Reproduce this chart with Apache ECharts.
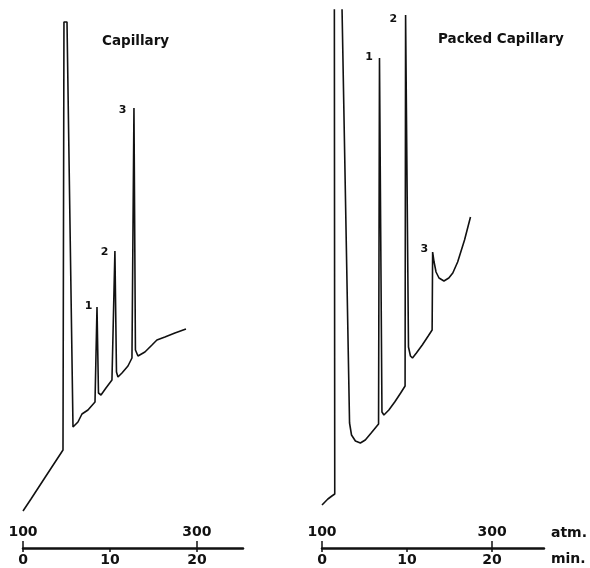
<!DOCTYPE html>
<html>
<head>
<meta charset="utf-8">
<title>Capillary vs Packed Capillary</title>
<script src="https://cdn.jsdelivr.net/npm/echarts@6/dist/echarts.min.js"></script>
<style>
  html, body { margin: 0; padding: 0; background: #fff; }
  #chart { width: 590px; height: 568px; }
</style>
</head>
<body>
<div id="chart"></div>
<script>
// time in min, detector signal in arbitrary units
const timeCap = [0, 0.92, 2.53, 4.6, 4.71, 5.06, 5.75, 5.98, 6.32, 6.78, 7.47, 8.28, 8.39, 8.51, 8.68, 8.97,
  9.54, 10.23, 10.4, 10.57, 10.75, 10.92, 11.38, 12.07, 12.53, 12.64, 12.76, 12.93, 13.22, 14.02, 14.83,
  15.4, 16.32, 17.47, 18.74];
const signalCap = [7.4, 9.8, 14.1, 19.6, 105.2, 105.2, 24.2, 24.0, 25.2, 26.8, 27.6, 29.2, 29.6, 48.2, 31, 30.6,
  32, 33.6, 34, 59.4, 35.2, 34.2, 35, 36.4, 38, 38.4, 88, 39.6, 38.4, 39.2, 40.6,
  41.6, 42.2, 43, 43.8];

const timePacked = [0, 0.69, 1.16, 1.5, 1.45, 2.28, 3.24, 3.47, 3.93, 4.51, 5.09, 5.78, 6.36, 6.65, 6.76, 7.05,
  7.28, 7.86, 8.55, 9.25, 9.77, 9.83, 10.17, 10.4, 10.64, 11.1, 11.79, 12.49, 12.95, 13.01, 13.18, 13.41,
  13.76, 14.34, 14.91, 15.38, 15.95, 16.76, 17.46];
const signalPacked = [8.6, 9.8, 10.4, 10.8, 115, 115, 25, 22.6, 21.4, 21, 21.6, 23, 24.2, 24.8, 98, 27.2,
  26.6, 27.6, 29.2, 31, 32.4, 106.6, 40.2, 38.4, 38, 39, 40.6, 42.4, 43.6, 59.2, 57.2, 55.2,
  54, 53.4, 54, 55, 57.2, 61.6, 66.2];

// peak numbers and the index of each peak top in the arrays above
const peakNames = ['1', '2', '3'];
const peakIdxCap = [13, 19, 26];
const peakIdxPacked = [14, 21, 29];

const timeTicks = [0, 10, 20];
const pressureTicks = [100, 300];
const pressureStart = 100; // atm at 0 min
const pressureRate = 10;   // atm per min

const capMax = 25.3;
const packedMax = 26.1;

const chart = echarts.init(document.getElementById('chart'));

const font = 'DejaVu Sans';

function pairs(t, s) {
  return t.map((v, i) => [v, s[i]]);
}

function peakMarks(t, s, idx, offsets) {
  return idx.map((k, i) => ({
    name: peakNames[i],
    coord: [t[k], s[k]],
    label: { offset: offsets[i] }
  }));
}

function timeAxis(grid, max, withName) {
  return {
    type: 'value', gridIndex: grid, position: 'bottom',
    min: 0, max: max,
    name: withName ? 'min.' : '',
    nameLocation: 'end', nameGap: 7,
    nameTextStyle: { fontFamily: font, fontWeight: 'bold', fontSize: 14, color: '#111',
      verticalAlign: 'top', padding: [4, 0, 0, 0] },
    axisLine: { show: true, lineStyle: { color: '#111', width: 2.5 } },
    axisTick: { show: true, inside: false, length: 4, lineStyle: { color: '#111', width: 1.5 },
      customValues: timeTicks },
    axisLabel: { show: true, margin: 5, fontFamily: font, fontWeight: 'bold', fontSize: 14, color: '#111',
      customValues: timeTicks },
    splitLine: { show: false }
  };
}

function pressureAxis(grid, max, withName) {
  return {
    type: 'value', gridIndex: grid, position: 'bottom',
    min: pressureStart, max: pressureStart + max * pressureRate,
    name: withName ? 'atm.' : '',
    nameLocation: 'end', nameGap: 7,
    nameTextStyle: { fontFamily: font, fontWeight: 'bold', fontSize: 14, color: '#111',
      verticalAlign: 'bottom', padding: [0, 0, 8, 0] },
    axisLine: { show: false },
    axisTick: { show: true, inside: true, length: 7, lineStyle: { color: '#111', width: 1.5 },
      customValues: pressureTicks },
    axisLabel: { show: true, inside: true, margin: 9, fontFamily: font, fontWeight: 'bold', fontSize: 14,
      color: '#111', customValues: pressureTicks },
    splitLine: { show: false }
  };
}

function traceSeries(axis, t, s, idx, offsets) {
  return {
    type: 'line', xAxisIndex: axis, yAxisIndex: axis / 2,
    data: pairs(t, s),
    showSymbol: false, smooth: false, clip: true,
    lineStyle: { color: '#111', width: 1.6 },
    markPoint: {
      symbol: 'circle', symbolSize: 1,
      itemStyle: { color: 'rgba(0,0,0,0)' },
      label: { show: true, position: 'left', distance: 4, formatter: '{b}',
        fontFamily: font, fontWeight: 'bold', fontSize: 11, color: '#111' },
      data: peakMarks(t, s, idx, offsets)
    }
  };
}

const option = {
  animation: false,
  backgroundColor: '#fff',
  title: [
    { text: 'Capillary', left: 97, top: 29,
      textStyle: { fontFamily: font, fontWeight: 'bold', fontSize: 13.5, color: '#111' } },
    { text: 'Packed Capillary', left: 433, top: 27,
      textStyle: { fontFamily: font, fontWeight: 'bold', fontSize: 13.5, color: '#111' } }
  ],
  grid: [
    { left: 23, right: 590 - 243, top: 10, bottom: 20 },
    { left: 322, right: 42, top: 10, bottom: 20 }
  ],
  xAxis: [
    timeAxis(0, capMax, false),
    pressureAxis(0, capMax, false),
    timeAxis(1, packedMax, true),
    pressureAxis(1, packedMax, true)
  ],
  yAxis: [
    { type: 'value', gridIndex: 0, min: 0, max: 107.6, show: false },
    { type: 'value', gridIndex: 1, min: 0, max: 107.6, show: false }
  ],
  series: [
    traceSeries(0, timeCap, signalCap, peakIdxCap, [[0, -1], [-2, 1], [-3, 2]]),
    traceSeries(2, timePacked, signalPacked, peakIdxPacked, [[-2, -1], [-4, 4], [0, -3]])
  ]
};

chart.setOption(option);
</script>
</body>
</html>
